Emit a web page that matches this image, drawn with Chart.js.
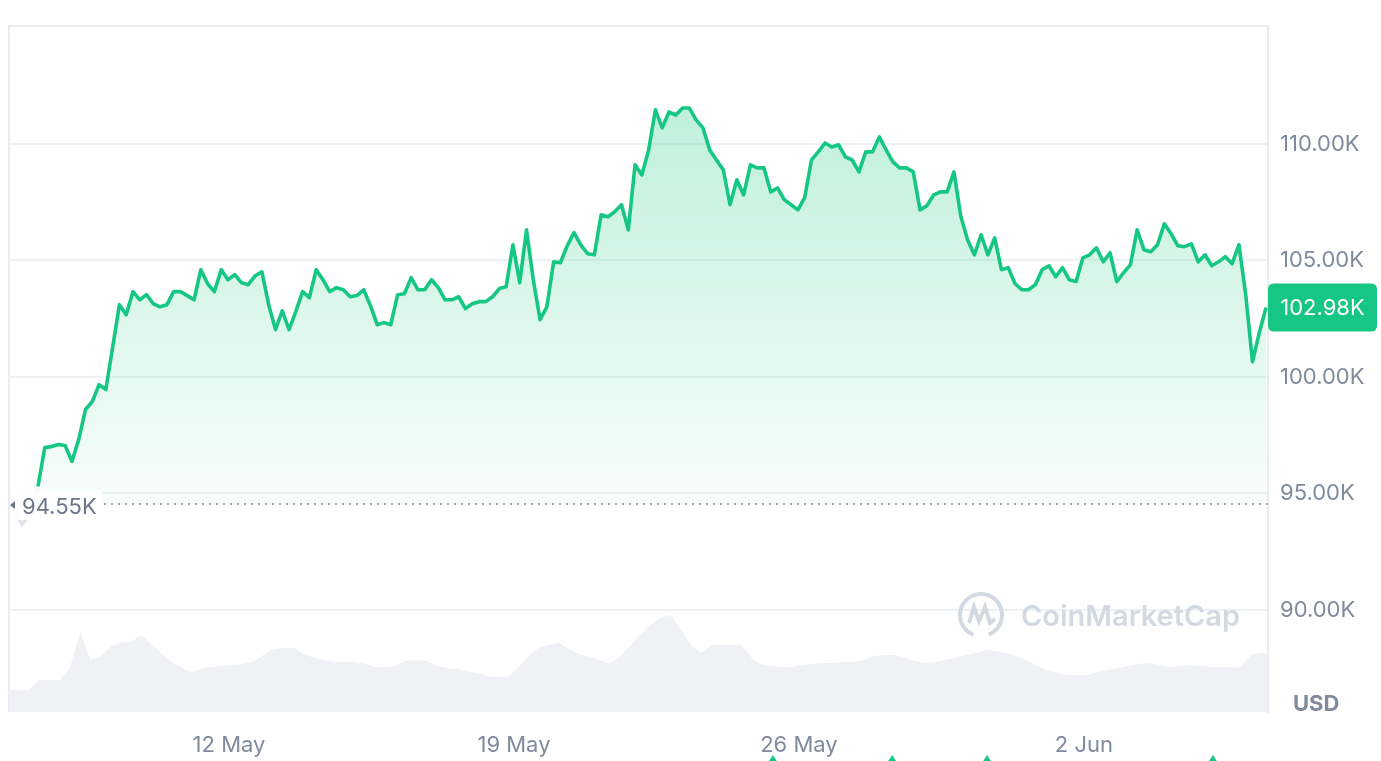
<!DOCTYPE html>
<html>
<head>
<meta charset="utf-8">
<script src="https://cdn.jsdelivr.net/npm/chart.js@4.4.1/dist/chart.umd.min.js"></script>
<style>
  html, body { margin: 0; padding: 0; background: #ffffff; overflow: hidden; }
  #btcChart { display: block; }
</style>
</head>
<body>
<canvas id="btcChart" width="1381" height="761"></canvas>
<script>
// x values are days counted so that 12 May 00:00 = 12
const xTickDays = [12, 19, 26, 33];
const xTickLabels = ['12 May', '19 May', '26 May', '2 Jun'];
const yTicks = [90000, 95000, 100000, 105000, 110000];
const xRange = [6.596, 37.522];
const yRange = [85620, 115060];

const baselinePrice = 94550;

// price, one point every 4 hours from 7 May ~07:20
const priceStartDay = 7.308;
const priceStepDays = 4 / 24;
const priceK = [
  95.30, 96.97, 97.01, 97.10, 97.06, 96.37, 97.31, 98.60, 98.94, 99.67,
  99.46, 101.26, 103.10, 102.67, 103.66, 103.31, 103.53, 103.14, 103.01, 103.10,
  103.66, 103.66, 103.49, 103.31, 104.60, 104.00, 103.66, 104.60, 104.17, 104.39,
  104.04, 103.96, 104.34, 104.51, 103.10, 102.03, 102.84, 102.03, 102.80, 103.66,
  103.40, 104.60, 104.17, 103.66, 103.83, 103.74, 103.44, 103.49, 103.74, 103.06,
  102.24, 102.33, 102.24, 103.53, 103.57, 104.26, 103.74, 103.74, 104.17, 103.83,
  103.31, 103.31, 103.44, 102.93, 103.14, 103.23, 103.23, 103.44, 103.79, 103.87,
  105.67, 104.04, 106.31, 104.17, 102.46, 103.01, 104.94, 104.90, 105.63, 106.19,
  105.67, 105.29, 105.24, 106.96, 106.87, 107.09, 107.39, 106.31, 109.10, 108.67,
  109.74, 111.46, 110.69, 111.37, 111.24, 111.54, 111.54, 111.03, 110.69, 109.74,
  109.31, 108.89, 107.39, 108.46, 107.81, 109.10, 108.97, 108.97, 107.94, 108.11,
  107.60, 107.39, 107.17, 107.69, 109.31, 109.66, 110.04, 109.87, 109.96, 109.44,
  109.31, 108.80, 109.66, 109.66, 110.30, 109.74, 109.23, 108.97, 108.97, 108.80,
  107.17, 107.34, 107.81, 107.94, 107.94, 108.80, 106.91, 105.89, 105.24, 106.10,
  105.24, 105.97, 104.60, 104.69, 104.00, 103.74, 103.74, 103.96, 104.60, 104.77,
  104.30, 104.69, 104.17, 104.09, 105.11, 105.24, 105.54, 104.94, 105.33, 104.09,
  104.47, 104.81, 106.31, 105.46, 105.37, 105.67, 106.57, 106.14, 105.63, 105.59,
  105.71, 104.94, 105.24, 104.77, 104.94, 105.16, 104.86, 105.67, 103.53, 100.65,
  101.90, 102.98
];

// faded trace before the period start
const priorDays = [6.694, 6.915, 7.112, 7.284];
const priorK = [94.40, 93.67, 94.10, 95.17];

// volume (USD bn), one bar every 6 hours from the left edge
const volumeStartDay = 6.596;
const volumeStepDays = 6 / 24;
const volumeBn = [
  16.0, 16.0, 16.0, 23.3, 23.3, 23.3, 32.8, 58.3, 37.9, 40.1,
  47.4, 51.0, 51.0, 56.1, 48.8, 43.0, 36.5, 32.1, 29.2, 32.1,
  32.8, 33.5, 34.3, 35.0, 36.5, 41.6, 45.9, 46.7, 46.7, 42.3,
  39.4, 37.9, 36.5, 36.5, 36.5, 35.0, 32.8, 32.8, 33.5, 37.2,
  37.9, 37.2, 33.5, 32.1, 31.3, 29.9, 28.4, 26.2, 25.5, 25.5,
  32.1, 40.8, 46.7, 48.8, 50.3, 45.9, 42.3, 40.1, 37.9, 35.0,
  40.1, 48.1, 56.1, 63.4, 68.5, 70.7, 59.8, 48.8, 43.0, 48.8,
  48.8, 48.8, 48.8, 39.4, 34.3, 33.5, 32.8, 32.8, 34.3, 35.0,
  35.7, 35.7, 36.5, 36.5, 37.9, 40.8, 41.6, 41.6, 39.4, 37.2,
  35.7, 36.5, 37.9, 39.4, 41.6, 43.0, 45.2, 44.5, 43.0, 40.8,
  37.9, 33.5, 30.6, 28.4, 27.0, 27.0, 27.0, 29.2, 30.6, 32.1,
  33.5, 35.0, 35.7, 34.3, 32.8, 33.5, 34.3, 33.5, 32.8, 32.8,
  32.8, 32.1, 41.6, 43.0, 43.0
];

// event markers under the axis
const eventDays = [25.36, 28.29, 30.62, 36.17];

const GREEN = '#16c784';
const GREY_TEXT = '#808a9d';
const GRID = '#eff2f5';
const FONT = 'Inter, sans-serif';

const priceData = priceK.map((p, i) => ({ x: priceStartDay + i * priceStepDays, y: p * 1000 }));
const priorData = priorK.map((p, i) => ({ x: priorDays[i], y: p * 1000 }));
const volumeData = volumeBn.map((v, i) => ({ x: volumeStartDay + i * volumeStepDays, y: v }));

function fmtK(v) {
  return (v / 1000).toFixed(2) + 'K';
}

function roundRect(ctx, x, y, w, h, r) {
  ctx.beginPath();
  ctx.moveTo(x + r, y);
  ctx.lineTo(x + w - r, y);
  ctx.quadraticCurveTo(x + w, y, x + w, y + r);
  ctx.lineTo(x + w, y + h - r);
  ctx.quadraticCurveTo(x + w, y + h, x + w - r, y + h);
  ctx.lineTo(x + r, y + h);
  ctx.quadraticCurveTo(x, y + h, x, y + h - r);
  ctx.lineTo(x, y + r);
  ctx.quadraticCurveTo(x, y, x + r, y);
  ctx.closePath();
}

const decorations = {
  id: 'decorations',
  beforeDatasetsDraw(chart) {
    const { ctx, chartArea: a } = chart;
    ctx.save();
    // frame (top + left)
    ctx.strokeStyle = '#e9ecef';
    ctx.lineWidth = 2;
    ctx.beginPath();
    ctx.moveTo(a.left, a.bottom);
    ctx.lineTo(a.left, a.top);
    ctx.lineTo(a.right, a.top);
    ctx.stroke();

    // watermark
    const cx = a.right - 287, cy = a.top + 589;
    ctx.strokeStyle = '#d3d9e3';
    ctx.lineWidth = 4;
    ctx.beginPath();
    ctx.arc(cx, cy, 21, Math.PI * 0.62, Math.PI * 2.38);
    ctx.stroke();
    ctx.beginPath();
    ctx.moveTo(cx - 12, cy + 8);
    ctx.lineTo(cx - 7, cy - 8);
    ctx.lineTo(cx - 2, cy + 6);
    ctx.lineTo(cx + 4, cy - 8);
    ctx.lineTo(cx + 9, cy + 8);
    ctx.lineTo(cx + 14, cy + 4);
    ctx.stroke();
    ctx.fillStyle = '#d3d9e3';
    ctx.font = '600 29px ' + FONT;
    ctx.textBaseline = 'middle';
    ctx.textAlign = 'left';
    ctx.fillText('CoinMarketCap', cx + 40, cy + 2);
    ctx.restore();
  },
  afterDatasetsDraw(chart) {
    const { ctx, chartArea: a, scales } = chart;
    const yb = scales.y.getPixelForValue(baselinePrice);
    ctx.save();
    // dotted baseline
    ctx.strokeStyle = '#a1a7b3';
    ctx.lineWidth = 2;
    ctx.setLineDash([2, 5]);
    ctx.beginPath();
    ctx.moveTo(a.left + 95, yb);
    ctx.lineTo(a.right, yb);
    ctx.stroke();
    ctx.setLineDash([]);

    // baseline label
    ctx.fillStyle = 'rgba(255,255,255,0.9)';
    roundRect(ctx, a.left + 2, yb - 14, 92, 30, 6);
    ctx.fill();
    ctx.fillStyle = '#6b7588';
    ctx.beginPath();
    ctx.moveTo(a.left + 1, yb + 1);
    ctx.lineTo(a.left + 6, yb - 3);
    ctx.lineTo(a.left + 6, yb + 5);
    ctx.closePath();
    ctx.fill();
    ctx.font = '22px ' + FONT;
    ctx.textAlign = 'left';
    ctx.textBaseline = 'middle';
    ctx.fillStyle = '#6b7588';
    ctx.fillText(fmtK(baselinePrice), a.left + 13, yb + 3);

    // last price badge
    const last = priceData[priceData.length - 1].y;
    const yl = scales.y.getPixelForValue(last);
    ctx.fillStyle = GREEN;
    roundRect(ctx, a.right, yl - 24, 109, 48, 6);
    ctx.fill();
    ctx.fillStyle = '#ffffff';
    ctx.textAlign = 'center';
    ctx.font = '22px ' + FONT;
    ctx.fillText(fmtK(last), a.right + 54.5, yl + 1);

    // currency
    ctx.fillStyle = GREY_TEXT;
    ctx.font = 'bold 22px ' + FONT;
    ctx.textAlign = 'left';
    ctx.fillText('USD', a.right + 25, a.bottom - 8);
    ctx.restore();
  },
  afterDraw(chart) {
    // event markers, positioned with the x scale, peeking in at the bottom
    const { ctx, scales } = chart;
    const top = scales.x.bottom - 6;
    ctx.save();
    ctx.fillStyle = GREEN;
    eventDays.forEach(d => {
      const x = scales.x.getPixelForValue(d);
      ctx.beginPath();
      ctx.moveTo(x, top);
      ctx.lineTo(x + 9, top + 14);
      ctx.lineTo(x - 9, top + 14);
      ctx.closePath();
      ctx.fill();
    });
    ctx.restore();
  }
};

const ctx = document.getElementById('btcChart').getContext('2d');

new Chart(ctx, {
  type: 'line',
  data: {
    datasets: [{
      label: 'Price',
      data: priceData,
      borderColor: GREEN,
      borderWidth: 3.6,
      borderJoinStyle: 'round',
      pointRadius: 0,
      tension: 0,
      yAxisID: 'y',
      fill: { value: baselinePrice },
      backgroundColor: function(context) {
        const chart = context.chart;
        const a = chart.chartArea;
        if (!a) return 'rgba(22,199,132,0.1)';
        const y = chart.scales.y;
        const top = y.getPixelForValue(Math.max(...priceK) * 1000);
        const bottom = y.getPixelForValue(baselinePrice);
        const g = chart.ctx.createLinearGradient(0, top, 0, bottom);
        g.addColorStop(0, 'rgba(22,199,132,0.27)');
        g.addColorStop(1, 'rgba(22,199,132,0.03)');
        return g;
      },
      order: 1
    }, {
      label: 'Before',
      data: priorData,
      borderColor: '#dde1e7',
      borderWidth: 3,
      pointRadius: 0,
      tension: 0,
      yAxisID: 'y',
      fill: false,
      order: 2
    }, {
      label: 'Volume',
      data: volumeData,
      borderWidth: 0,
      pointRadius: 0,
      tension: 0,
      yAxisID: 'yv',
      fill: 'origin',
      backgroundColor: '#eff1f4',
      order: 3
    }]
  },
  options: {
    responsive: false,
    animation: false,
    layout: { padding: { left: 9, top: 26, right: 0, bottom: 0 } },
    plugins: {
      legend: { display: false },
      tooltip: { enabled: false }
    },
    scales: {
      x: {
        type: 'linear',
        min: xRange[0],
        max: xRange[1],
        afterFit: s => { s.height = 49; },
        afterBuildTicks: s => { s.ticks = xTickDays.map(v => ({ value: v })); },
        grid: { display: false, drawTicks: false },
        border: { display: false },
        ticks: {
          padding: 20,
          color: GREY_TEXT,
          font: { family: 'Inter', size: 22 },
          maxRotation: 0,
          autoSkip: false,
          callback: v => xTickLabels[xTickDays.indexOf(v)]
        }
      },
      y: {
        position: 'right',
        min: yRange[0],
        max: yRange[1],
        afterFit: s => { s.width = 113; },
        afterBuildTicks: s => { s.ticks = yTicks.map(v => ({ value: v })); },
        grid: { color: GRID, lineWidth: 2, drawTicks: false },
        border: { display: true, color: '#e9ecef', width: 2 },
        ticks: {
          padding: 12,
          color: GREY_TEXT,
          font: { family: 'Inter', size: 22 },
          callback: v => fmtK(v)
        }
      },
      yv: {
        display: false,
        min: 0,
        max: 500
      }
    }
  },
  plugins: [decorations]
});
</script>
</body>
</html>
